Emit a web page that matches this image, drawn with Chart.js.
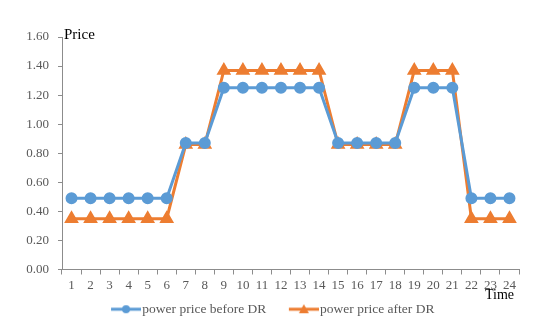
<!DOCTYPE html>
<html><head><meta charset="utf-8">
<script src="https://cdn.jsdelivr.net/npm/chart.js@4.4.1/dist/chart.umd.min.js"></script>
<style>html,body{margin:0;padding:0;background:#fff;}#wrap{width:550px;height:331px;}</style>
</head><body><div id="wrap"><canvas id="c" width="550" height="331"></canvas></div>
<script>
const categories = ['1','2','3','4','5','6','7','8','9','10','11','12','13','14','15','16','17','18','19','20','21','22','23','24'];
const beforeDR = [0.49,0.49,0.49,0.49,0.49,0.49,0.87,0.87,1.25,1.25,1.25,1.25,1.25,1.25,0.87,0.87,0.87,0.87,1.25,1.25,1.25,0.49,0.49,0.49];
const afterDR  = [0.35,0.35,0.35,0.35,0.35,0.35,0.86,0.86,1.37,1.37,1.37,1.37,1.37,1.37,0.86,0.86,0.86,0.86,1.37,1.37,1.37,0.35,0.35,0.35];
const seriesNames = ['power price before DR','power price after DR'];
const yTicks = [0,0.2,0.4,0.6,0.8,1.0,1.2,1.4,1.6];

const BLUE='#5B9BD5', ORANGE='#ED7D31', AXIS='#8c8c8c', TXT='#595959';
const FONT='"Liberation Serif","Times New Roman",serif';

// legend icon: transparent gap on the left, then line with marker
const GAP=18, LINE=30;
function legendIcon(color, shape){
  const cv=document.createElement('canvas'); cv.width=GAP+LINE; cv.height=12;
  const g=cv.getContext('2d');
  g.strokeStyle=color; g.lineWidth=3; g.beginPath(); g.moveTo(GAP,6); g.lineTo(GAP+LINE,6); g.stroke();
  g.fillStyle=color; g.beginPath();
  const cx=GAP+LINE/2;
  if(shape==='circle'){ g.arc(cx,6,4,0,Math.PI*2); }
  else { g.moveTo(cx,1); g.lineTo(cx+5,10); g.lineTo(cx-5,10); g.closePath(); }
  g.fill();
  return cv;
}
const icons=[legendIcon(BLUE,'circle'),legendIcon(ORANGE,'triangle')];

const labelsPlugin={id:'axisTitles',
  afterLayout(chart){ if(chart.legend){ chart.legend.left+=7; chart.legend.right+=7; } },
  afterDraw(chart){
    const ctx=chart.ctx, a=chart.chartArea;
    ctx.save(); ctx.fillStyle='#000'; ctx.textBaseline='middle'; ctx.textAlign='left';
    ctx.font='15px '+FONT; ctx.fillText('Price', a.left+2, a.top-2);
    ctx.font='14px '+FONT; ctx.fillText('Time', 485, 295);
    ctx.restore();
  }
};

new Chart(document.getElementById('c'),{
  type:'line',
  data:{labels:categories,datasets:[
    {label:seriesNames[0],data:beforeDR,borderColor:BLUE,backgroundColor:BLUE,borderWidth:3,pointStyle:'circle',pointRadius:4.5,pointHoverRadius:4.5,tension:0},
    {label:seriesNames[1],data:afterDR,borderColor:ORANGE,backgroundColor:ORANGE,borderWidth:3,pointStyle:'triangle',pointRadius:5.5,pointHoverRadius:5.5,tension:0}
  ]},
  options:{
    responsive:false,animation:false,
    layout:{padding:{left:0,right:31,top:37,bottom:5}},
    plugins:{
      tooltip:{enabled:false},
      legend:{position:'bottom',labels:{
        usePointStyle:true,pointStyleWidth:GAP+LINE-11,color:TXT,font:{family:FONT,size:13.5},padding:10,boxHeight:12,
        generateLabels(chart){return chart.data.datasets.map((d,i)=>({text:d.label,fillStyle:d.borderColor,strokeStyle:d.borderColor,pointStyle:icons[i],lineWidth:0,datasetIndex:i,fontColor:TXT}));}
      }}
    },
    scales:{
      x:{offset:true,
        grid:{display:true,offset:true,drawOnChartArea:false,color:AXIS,tickLength:5},
        border:{color:AXIS,width:1},
        ticks:{color:TXT,font:{family:FONT,size:13},maxRotation:0,autoSkip:false,padding:3},
        afterFit(s){s.height=23;}
      },
      y:{min:0,max:1.6,
        afterBuildTicks(s){s.ticks=yTicks.map(v=>({value:v}));},
        grid:{display:true,drawOnChartArea:false,color:AXIS,tickLength:4},
        border:{color:AXIS,width:1},
        ticks:{color:TXT,font:{family:FONT,size:13},padding:9,callback:v=>Number(v).toFixed(2)},
        afterFit(s){s.width=62;}
      }
    }
  },
  plugins:[labelsPlugin]
});
</script></body></html>
